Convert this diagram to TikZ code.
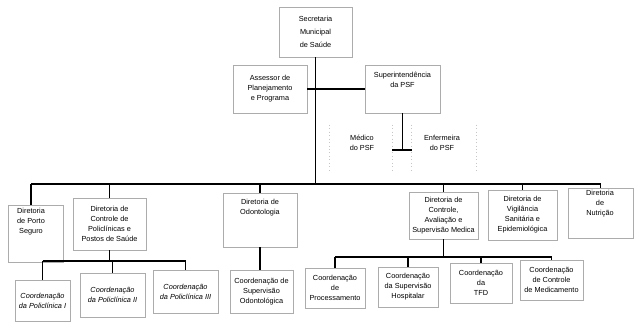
\documentclass[tikz,border=0pt]{standalone}
\usepackage{fontspec}
\setmainfont{Liberation Sans}
\begin{document}
\begin{tikzpicture}[x=0.75pt,y=-0.75pt,
  box/.style={draw=gray!65, line width=0.5pt, fill=white, align=center, inner sep=1pt, font=\fontsize{5.5}{7.5}\selectfont},
  sz/.style 2 args={minimum width=#1*0.75pt, minimum height=#2*0.75pt},
  txt/.style={align=center, inner sep=0pt, font=\fontsize{5.5}{7.5}\selectfont},
  itx/.style={font=\fontsize{5.5}{7.5}\selectfont\itshape},
  conn/.style={line width=1.1pt, black},
  faint/.style={draw=gray!45, dotted, line width=0.6pt}]
\useasboundingbox (0,0) rectangle (635,326);
\fill[white] (0,0) rectangle (635,326);

% top
\node[box,sz={73}{50},font=\fontsize{5.5}{9.5}\selectfont] (sec) at (315.5,32) {Secretaria\\Municipal\\de Saúde};
\node[box,sz={74}{48}] (ass) at (270,89) {Assessor de\\Planejamento\\e Programa};
\node[box,sz={75}{48}] (sup) at (402.5,89) {};
\node[txt] (supt) at (402.5,80) {Superintendência\\da PSF};
\node[sz={62}{45}] (med) at (361,147.5) {};
\node[txt] (medt) at (362,143) {Médico\\do PSF};
\node[sz={64}{45}] (enf) at (444,147.5) {};
\node[txt] (enft) at (442,143) {Enfermeira\\do PSF};
\draw[faint] (med.north west) -- (med.south west);
\draw[faint] (med.north east) -- (med.south east);
\draw[faint] (enf.north west) -- (enf.south west);
\draw[faint] (enf.north east) -- (enf.south east);

% level 2
\node[box,sz={55}{57}] (d1) at (35.5,233.5) {};
\node[txt] (d1t) at (31,222) {Diretoria\\de Porto\\Seguro};
\node[box,sz={73}{52}] (d2) at (109.5,224) {Diretoria de\\Controle de\\Policlínicas e\\Postos de Saúde};
\node[box,sz={74}{54}] (d3) at (260,220) {};
\node[txt] (d3t) at (260,208) {Diretoria de\\Odontologia};
\node[box,sz={69}{47}] (d4) at (443.5,215.5) {Diretoria de\\Controle,\\Avaliação e\\Supervisão Medica};
\node[box,sz={69}{50}] (d5) at (522.5,215) {Diretoria de\\Vigilância\\Sanitária e\\Epidemiológica};
\node[box,sz={65}{50}] (d6) at (600.5,213) {};
\node[txt] (d6t) at (600,204) {Diretoria\\de\\Nutrição};

% level 3
\node[box,sz={55}{41},itx] (c1) at (42.5,300.5) {Coordenação\\da Policlínica I};
\node[box,sz={65}{44},itx] (c2) at (112.5,295) {Coordenação\\da Policlínica II};
\node[box,sz={65}{43},itx] (c3) at (185.5,291.5) {Coordenação\\da Policlínica III};
\node[box,sz={63}{43}] (c4) at (261.5,291.5) {Coordenação de\\Supervisão\\Odontológica};
\node[box,sz={60}{40}] (c5) at (335,288) {Coordenação\\de\\Processamento};
\node[box,sz={60}{40}] (c6) at (408,287) {Coordenação\\da Supervisão\\Hospitalar};
\node[box,sz={62}{40}] (c7) at (481,283) {Coordenação\\da\\TFD};
\node[box,sz={63}{40}] (c8) at (551.5,280) {Coordenação\\de Controle\\de Medicamento};

% connectors
\coordinate (bar) at (0,184);
\coordinate (tee) at (0,150);
\coordinate (pbar) at (0,261);
\coordinate (mbar) at (0,257);

\draw[conn] (sec.south) -- (sec.south |- bar);
\draw[conn] (ass.east) -- (sup.west);
\draw[conn] (sup.south) -- (sup.south |- tee);
\draw[conn] (med.east |- tee) -- (enf.west |- tee);

\draw[conn] (d1t.north |- bar) -- (d6.north |- bar);
\draw[conn] (d1t.north |- bar) -- (d1t.north |- d1.north);
\foreach \n in {d2,d3,d4,d5,d6} \draw[conn] (\n.north |- bar) -- (\n.north);

\draw[conn] (d2.south) -- (d2.south |- pbar);
\draw[conn] (c1.north |- pbar) -- (c3.north |- pbar);
\foreach \n in {c1,c2,c3} \draw[conn] (\n.north |- pbar) -- (\n.north);

\draw[conn] (d3.south) -- (d3.south |- c4.north);

\draw[conn] (d4.south) -- (d4.south |- mbar);
\draw[conn] (c5.north |- mbar) -- (c8.north |- mbar);
\foreach \n in {c5,c6,c7,c8} \draw[conn] (\n.north |- mbar) -- (\n.north);
\end{tikzpicture}
\end{document}
